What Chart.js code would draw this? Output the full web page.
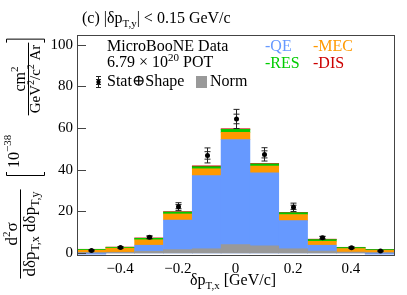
<!DOCTYPE html>
<html>
<head>
<meta charset="utf-8">
<script src="https://cdn.jsdelivr.net/npm/chart.js@4/dist/chart.umd.min.js"></script>
<style>
html,body{margin:0;padding:0;background:#fff;}
#wrap{width:407px;height:295px;position:relative;}
</style>
</head>
<body>
<div id="wrap"><canvas id="c" width="407" height="295"></canvas></div>
<script>
// ---- data ----
const binCenters = [-0.5, -0.4, -0.3, -0.2, -0.1, 0, 0.1, 0.2, 0.3, 0.4, 0.5];
const qe   = [-0.6, 0.3, 3.7, 15.8, 37.1, 54.4, 38.5, 15.5, 3.7, 0.2, -0.6];
const mec  = [1.3, 2.0, 2.6, 2.9, 3.3, 3.5, 3.2, 2.9, 1.9, 1.9, 1.2];
const res  = [0.4, 0.4, 0.7, 0.9, 1.0, 1.4, 1.0, 0.9, 0.8, 0.5, 0.4];
const dis  = [0.05, 0.1, 0.2, 0.2, 0.4, 0.3, 0.2, 0.1, 0.2, 0.1, 0.05];
const norm = [0.2, 0.3, 0.8, 1.6, 2.0, 4.0, 3.4, 2.0, 0.9, 0.4, 0.2];
const dataVals = [1.2, 2.6, 7.5, 22.2, 46.8, 64.3, 47.3, 21.9, 7.3, 2.5, 0.9];
const totErr   = [0.3, 0.4, 0.7, 1.9, 3.6, 4.6, 3.2, 2.0, 0.7, 0.4, 0.3];
const statErr  = [0.2, 0.3, 0.5, 1.0, 1.8, 2.3, 1.7, 1.0, 0.5, 0.3, 0.2];
const xTicks = [-0.4, -0.2, 0, 0.2, 0.4];
const yTicks = [0, 20, 40, 60, 80, 100];

const FONT = '"Liberation Serif", "DejaVu Serif", serif';
const C_QE = 'rgb(102,153,255)', C_MEC = 'rgb(255,153,0)', C_RES = 'rgb(0,204,0)',
      C_DIS = 'rgb(204,0,0)', C_NORM = 'rgb(153,153,153)';

function fmt(v){ const s = (Math.round(v*10)/10).toString(); return s.replace('-', '\u2212'); }

// draw a sequence of text runs: [text, size, dy]
function runsWidth(ctx, runs){
  let w = 0;
  for (const r of runs){ ctx.font = r[1] + 'px ' + FONT; w += ctx.measureText(r[0]).width; }
  return w;
}
function drawRuns(ctx, x, y, runs){
  for (const r of runs){
    ctx.font = r[1] + 'px ' + FONT;
    ctx.fillText(r[0], x, y + (r[2]||0));
    x += ctx.measureText(r[0]).width;
  }
  return x;
}

const decorPlugin = {
  id: 'decor',
  afterDatasetsDraw(chart){
    const ctx = chart.ctx, a = chart.chartArea, ys = chart.scales.y, xs = chart.scales.x;
    ctx.save();
    // error bars + points
    const hw = 3;
    ctx.strokeStyle = '#222'; ctx.lineWidth = 1;
    for (let i = 0; i < dataVals.length; i++){
      const px = Math.round(xs.getPixelForValue(i)) + 0.5;
      const y0 = ys.getPixelForValue(dataVals[i]);
      const yt1 = ys.getPixelForValue(dataVals[i] + totErr[i]);
      const yt2 = ys.getPixelForValue(dataVals[i] - totErr[i]);
      const ys1 = ys.getPixelForValue(dataVals[i] + statErr[i]);
      const ys2 = ys.getPixelForValue(dataVals[i] - statErr[i]);
      ctx.beginPath();
      ctx.moveTo(px, yt1); ctx.lineTo(px, yt2);
      for (const yy of [yt1, yt2, ys1, ys2]){ ctx.moveTo(px-hw, yy); ctx.lineTo(px+hw, yy); }
      ctx.stroke();
      ctx.fillStyle = '#000';
      ctx.beginPath(); ctx.arc(px, y0, 2.5, 0, Math.PI*2); ctx.fill();
    }
    // frame
    ctx.strokeStyle = '#444'; ctx.lineWidth = 1;
    ctx.strokeRect(Math.round(a.left)+0.5, Math.round(a.top)+0.5, Math.round(a.right-a.left), Math.round(a.bottom-a.top));
    // y ticks inside
    ctx.beginPath();
    for (const t of yTicks){
      const yy = Math.round(ys.getPixelForValue(t)) + 0.5;
      ctx.moveTo(a.left, yy); ctx.lineTo(a.left + 9, yy);
    }
    ctx.stroke();
    ctx.restore();
  },
  afterDraw(chart){
    const ctx = chart.ctx;
    ctx.save();
    ctx.textBaseline = 'alphabetic'; ctx.textAlign = 'left';
    ctx.fillStyle = '#000';
    // title
    drawRuns(ctx, 82, 23, [['(c) |\u03b4p', 16, 0], ['T,y', 11, 4], ['| < 0.15 GeV/c', 16, 0]]);
    // legend
    drawRuns(ctx, 107, 51, [['MicroBooNE Data', 16, 0]]);
    drawRuns(ctx, 107, 67, [['6.79 \u00d7 10', 16, 0], ['20', 11, -6], [' POT', 16, 0]]);
    drawRuns(ctx, 107, 86, [['Stat\u2295Shape', 16, 0]]);
    // legend error marker
    ctx.strokeStyle = '#222'; ctx.lineWidth = 1;
    ctx.beginPath();
    ctx.moveTo(98.5, 76); ctx.lineTo(98.5, 88);
    for (const yy of [76.5, 87.5, 79.5, 84.5]){ ctx.moveTo(96, yy); ctx.lineTo(101, yy); }
    ctx.stroke();
    ctx.beginPath(); ctx.arc(98.5, 82, 2.2, 0, Math.PI*2); ctx.fill();
    // Norm box
    ctx.fillStyle = C_NORM; ctx.fillRect(196, 76, 11, 12);
    ctx.fillStyle = '#000';
    drawRuns(ctx, 210, 86, [['Norm', 16, 0]]);
    ctx.fillStyle = C_QE;  drawRuns(ctx, 265, 51, [['-QE', 16, 0]]);
    ctx.fillStyle = C_MEC; drawRuns(ctx, 313, 51, [['-MEC', 16, 0]]);
    ctx.fillStyle = C_RES; drawRuns(ctx, 265, 68, [['-RES', 16, 0]]);
    ctx.fillStyle = C_DIS; drawRuns(ctx, 313, 68, [['-DIS', 16, 0]]);
    // x title
    ctx.fillStyle = '#000';
    drawRuns(ctx, 190, 285, [['\u03b4p', 16, 0], ['T,x', 11, 4], [' [GeV/c]', 16, 0]]);
    // y title (rotated): local (u,v) -> page (v, 295-u)
    ctx.translate(0, 295);
    ctx.rotate(-Math.PI/2);
    ctx.lineWidth = 1; ctx.strokeStyle = '#000';
    // differential fraction
    const den = [['d\u03b4p', 17, 0], ['T,x', 12, 4], [' d\u03b4p', 17, 0], ['T,y', 12, 4]];
    const num = [['d', 17, 0], ['2', 11, -7], ['\u03c3', 17, 0]];
    const dw = runsWidth(ctx, den), nw = runsWidth(ctx, num);
    const uc = 61;
    ctx.beginPath(); ctx.moveTo(uc - dw/2 - 2, 20.5); ctx.lineTo(uc + dw/2 + 2, 20.5); ctx.stroke();
    drawRuns(ctx, uc - nw/2, 17, num);
    drawRuns(ctx, uc - dw/2, 35, den);
    // bracket open
    const ub = 119;
    ctx.beginPath();
    ctx.moveTo(ub + 4, 6.5); ctx.lineTo(ub + 0.5, 6.5); ctx.lineTo(ub + 0.5, 44.5); ctx.lineTo(ub + 4, 44.5);
    ctx.stroke();
    drawRuns(ctx, ub + 8, 19, [['10', 16, 0], ['\u221238', 11, -8]]);
    // units fraction
    const un = [['cm', 16, 0], ['2', 11, -7]];
    const ud = [['GeV', 15, 0], ['2', 10, -6], ['/c', 15, 0], ['2', 10, -6], [' Ar', 15, 0]];
    const unw = runsWidth(ctx, un), udw = runsWidth(ctx, ud);
    const uc2 = 216;
    ctx.beginPath(); ctx.moveTo(uc2 - udw/2 - 2, 28.5); ctx.lineTo(uc2 + udw/2 + 2, 28.5); ctx.stroke();
    drawRuns(ctx, uc2 - unw/2, 25, un);
    drawRuns(ctx, uc2 - udw/2, 40, ud);
    const ue = uc2 + udw/2 + 6;
    ctx.beginPath();
    ctx.moveTo(ue - 4, 6.5); ctx.lineTo(ue - 0.5, 6.5); ctx.lineTo(ue - 0.5, 44.5); ctx.lineTo(ue - 4, 44.5);
    ctx.stroke();
    ctx.restore();
  }
};

new Chart(document.getElementById('c'), {
  type: 'bar',
  data: {
    labels: binCenters.map(String),
    datasets: [
      { type: 'line', label: 'Data', data: dataVals, showLine: false, pointRadius: 0, order: -1, xAxisID: 'x' },
      { label: 'Norm', data: norm, backgroundColor: C_NORM, stack: 'norm', grouped: false, order: 0 },
      { label: 'QE',  data: qe,  backgroundColor: C_QE,  stack: 'mc', order: 1 },
      { label: 'MEC', data: mec, backgroundColor: C_MEC, stack: 'mc', order: 2 },
      { label: 'RES', data: res, backgroundColor: C_RES, stack: 'mc', order: 3 },
      { label: 'DIS', data: dis, backgroundColor: C_DIS, stack: 'mc', order: 4 }
    ]
  },
  options: {
    responsive: false,
    animation: false,
    devicePixelRatio: 1,
    layout: { padding: { left: 0, right: 13, top: 35, bottom: 0 } },
    datasets: { bar: { barPercentage: 1, categoryPercentage: 1, borderWidth: 0 } },
    plugins: { legend: { display: false }, tooltip: { enabled: false }, title: { display: false } },
    scales: {
      x: { type: 'category', display: false, stacked: true, offset: true },
      xt: {
        type: 'linear', position: 'bottom', min: -0.55, max: 0.55, offset: false,
        grid: { display: false, drawTicks: false, offset: false }, border: { display: false },
        afterBuildTicks(s){ s.ticks = xTicks.map(v => ({ value: v })); },
        afterFit(s){ s.height = 40; },
        ticks: { color: '#000', padding: 5, font: { family: FONT, size: 15 }, callback: v => fmt(v), maxRotation: 0, autoSkip: false }
      },
      y: {
        stacked: true, min: -1, max: 104.6,
        grid: { display: false, drawTicks: false }, border: { display: false },
        afterBuildTicks(s){ s.ticks = yTicks.map(v => ({ value: v })); },
        afterFit(s){ s.width = 77; },
        ticks: { color: '#000', padding: 4, font: { family: FONT, size: 15 }, callback: v => fmt(v) }
      }
    }
  },
  plugins: [decorPlugin]
});
</script>
</body>
</html>
